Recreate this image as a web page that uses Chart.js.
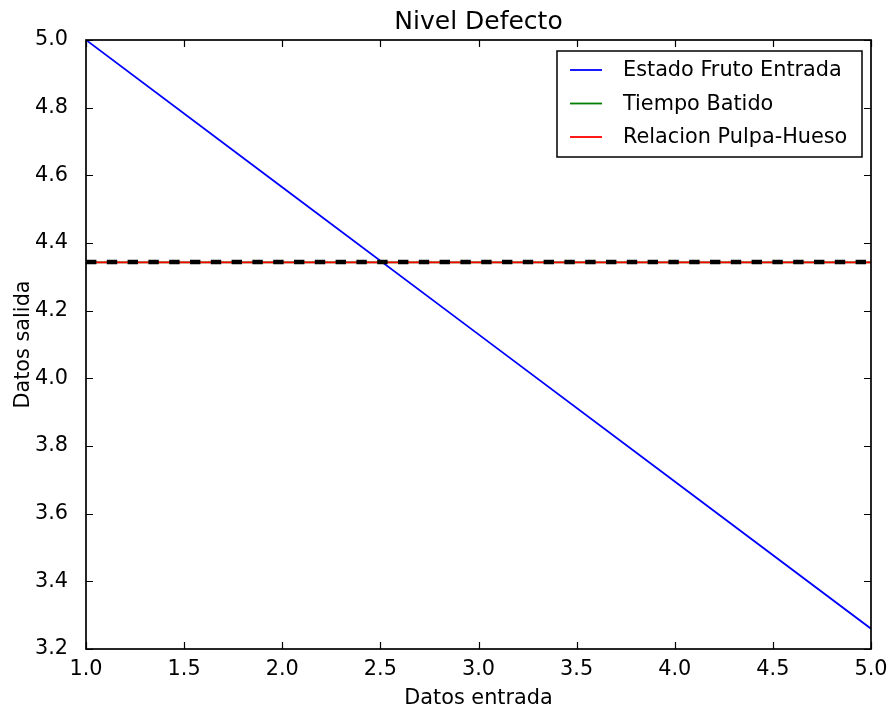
<!DOCTYPE html>
<html lang="es">
  <head>
    <meta charset="UTF-8" />
    <title>Nivel Defecto</title>
    <script src="https://cdn.jsdelivr.net/npm/chart.js@4.4.1/dist/chart.umd.min.js"></script>
    <style>
      body { margin: 0; background: #fff; }
      canvas { display: block; }
    </style>
  </head>
  <body>
    <canvas id="chart" width="889" height="713"></canvas>
    <script>
      // valores
      const xEntrada = [1, 2, 3, 4, 5];
      const estadoFruto = [5.0, 4.565, 4.13, 3.695, 3.26];
      const tiempoBatido = [4.343, 4.343, 4.343, 4.343, 4.343];
      const relacionPulpa = [4.343, 4.343, 4.343, 4.343, 4.343];
      const nivelDefecto = [4.344, 4.344, 4.344, 4.344, 4.344];
      const xTicks = [1.0, 1.5, 2.0, 2.5, 3.0, 3.5, 4.0, 4.5, 5.0];
      const yTicks = [3.2, 3.4, 3.6, 3.8, 4.0, 4.2, 4.4, 4.6, 4.8, 5.0];

      const FONT = "'DejaVu Sans', sans-serif";
      const pts = (ys) => xEntrada.map((x, i) => ({ x: x, y: ys[i] }));

      // marco y marcas hacia dentro, en los cuatro lados
      const frame = {
        id: "frame",
        afterDraw(chart) {
          const { ctx, chartArea: a, scales } = chart;
          ctx.save();
          ctx.strokeStyle = "#000";
          ctx.lineWidth = 1.2;
          ctx.beginPath();
          scales.x.ticks.forEach((t) => {
            const px = Math.round(scales.x.getPixelForValue(t.value)) + 0.5;
            ctx.moveTo(px, a.bottom); ctx.lineTo(px, a.bottom - 7);
            ctx.moveTo(px, a.top); ctx.lineTo(px, a.top + 7);
          });
          scales.y.ticks.forEach((t) => {
            const py = Math.round(scales.y.getPixelForValue(t.value)) + 0.5;
            ctx.moveTo(a.left, py); ctx.lineTo(a.left + 7, py);
            ctx.moveTo(a.right, py); ctx.lineTo(a.right - 7, py);
          });
          ctx.stroke();
          ctx.lineWidth = 1.7;
          ctx.strokeRect(a.left, a.top, a.right - a.left, a.bottom - a.top);
          ctx.restore();
        },
      };

      // leyenda dentro del area, arriba a la derecha
      const legendBox = {
        id: "legendBox",
        afterDraw(chart) {
          const ctx = chart.ctx;
          const items = chart.data.datasets.filter((d) => d.label);
          const x0 = 557, y0 = 51, w = 305, h = 106;
          ctx.save();
          ctx.fillStyle = "#fff";
          ctx.fillRect(x0, y0, w, h);
          ctx.strokeStyle = "#000";
          ctx.lineWidth = 1.5;
          ctx.strokeRect(x0, y0, w, h);
          ctx.font = "20.8px " + FONT;
          ctx.textBaseline = "middle";
          ctx.fillStyle = "#000";
          items.forEach((d, i) => {
            const y = y0 + 19 + i * 33.5;
            ctx.strokeStyle = d.borderColor;
            ctx.lineWidth = 1.8;
            ctx.beginPath();
            ctx.moveTo(570, y);
            ctx.lineTo(602, y);
            ctx.stroke();
            ctx.fillText(d.label, 623, y + 1);
          });
          ctx.restore();
        },
      };

      new Chart(document.getElementById("chart"), {
        type: "line",
        data: {
          datasets: [
            { label: "Estado Fruto Entrada", data: pts(estadoFruto), borderColor: "#0000ff", borderWidth: 1.8, order: 3 },
            { label: "Tiempo Batido", data: pts(tiempoBatido), borderColor: "#008000", borderWidth: 1.8, order: 2 },
            { label: "Relacion Pulpa-Hueso", data: pts(relacionPulpa), borderColor: "#ff0000", borderWidth: 1.8, order: 1 },
            { data: pts(nivelDefecto), borderColor: "#000", borderWidth: 4.5, borderDash: [10.4, 10.4], order: 0 },
          ],
        },
        options: {
          responsive: false,
          animation: false,
          elements: { point: { radius: 0 }, line: { tension: 0, fill: false } },
          layout: { padding: { right: 18 } },
          plugins: {
            legend: { display: false },
            tooltip: { enabled: false },
            title: {
              display: true,
              text: "Nivel Defecto",
              fullSize: false,
              color: "#000",
              font: { family: FONT, size: 25, weight: "normal" },
              padding: { top: 7, bottom: 3 },
            },
          },
          scales: {
            x: {
              type: "linear",
              min: 1,
              max: 5,
              afterBuildTicks: (s) => { s.ticks = xTicks.map((v) => ({ value: v })); },
              afterFit: (s) => { s.height = 64; s.paddingLeft = 0; s.paddingRight = 0; },
              grid: { display: false },
              border: { display: false },
              ticks: {
                color: "#000",
                padding: 0,
                maxRotation: 0,
                font: { family: FONT, size: 20.8 },
                callback: (v) => v.toFixed(1),
              },
              title: {
                display: true,
                text: "Datos entrada",
                color: "#000",
                font: { family: FONT, size: 20.8 },
                padding: { top: 0, bottom: 1.5 },
              },
            },
            y: {
              min: 3.2,
              max: 5.0,
              afterBuildTicks: (s) => { s.ticks = yTicks.map((v) => ({ value: v })); },
              afterFit: (s) => { s.width = 86; },
              grid: { display: false },
              border: { display: false },
              ticks: {
                color: "#000",
                padding: 10,
                font: { family: FONT, size: 20.8 },
                callback: (v) => v.toFixed(1),
              },
              title: {
                display: true,
                text: "Datos salida",
                color: "#000",
                font: { family: FONT, size: 20.8 },
                padding: { top: 11, bottom: 0 },
              },
            },
          },
        },
        plugins: [frame, legendBox],
      });
    </script>
  </body>
</html>
